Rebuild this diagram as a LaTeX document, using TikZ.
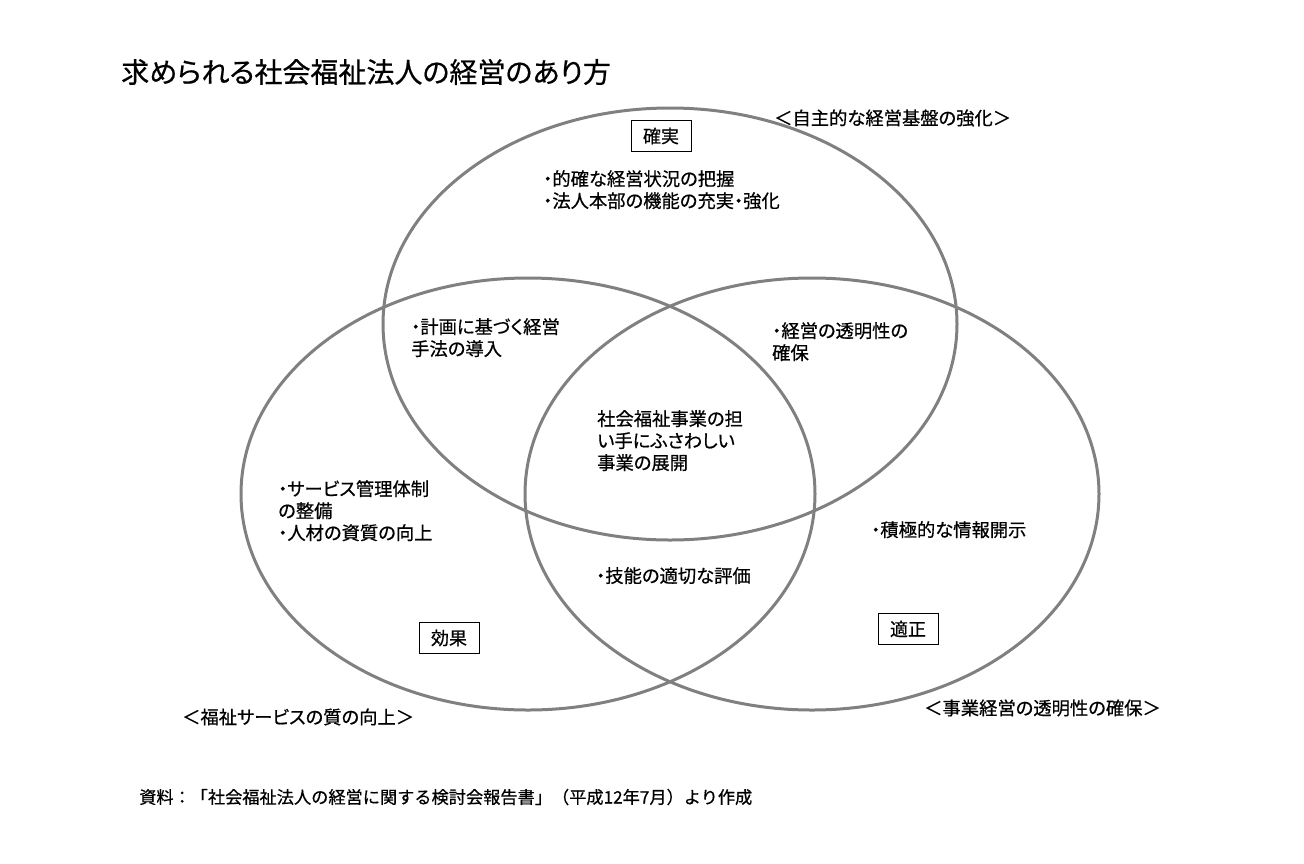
\documentclass[tikz,border=0pt]{standalone}
\usepackage{fontspec}
\setmainfont{Noto Sans CJK JP}[RawFeature=+palt, FakeBold=0.6]
\newfontfamily\plainjp{Noto Sans CJK JP}[FakeBold=0.6]

\begin{document}
\begin{tikzpicture}[x=1pt, y=-1pt,
    ring/.style={draw=black!50, line width=3pt},
    note/.style={font=\fontsize{18.3}{22}\selectfont, align=left, anchor=north west, inner sep=0pt},
    keybox/.style={draw, line width=0.8pt, font=\fontsize{18}{20}\selectfont, inner xsep=12pt, inner ysep=7pt},
    goal/.style={font=\fontsize{18.3}{20}\selectfont, anchor=west, inner sep=0pt}]
  \useasboundingbox (0,0) rectangle (1304,863);

  % the three circles
  \coordinate (sure) at (670,324);
  \coordinate (good) at (528,494);
  \coordinate (fair) at (812,494);
  \draw[ring] (sure) ellipse [x radius=287pt, y radius=216pt];
  \draw[ring] (good) ellipse [x radius=287pt, y radius=216pt];
  \draw[ring] (fair) ellipse [x radius=287pt, y radius=216pt];

  \node[anchor=west, inner sep=0pt, font=\fontsize{28}{30}\selectfont] (title) at (121,72) {求められる社会福祉法人の経営のあり方};

  \node[goal] (gsure) at (774,118) {＜自主的な経営基盤の強化＞};
  \node[goal] (ggood) at (182,717) {＜福祉サービスの質の向上＞};
  \node[goal] (gfair) at (924,708) {＜事業経営の透明性の確保＞};

  \node[keybox] (ksure) at (661,136) {確実};
  \node[keybox] (kgood) at (449,638) {効果};
  \node[keybox] (kfair) at (908,629) {適正};

  \node[note] (nsure) at (543,170) {・的確な経営状況の把握\\・法人本部の機能の充実・強化};
  \node[note] (nsg)   at (411,318) {・計画に基づく経営\\手法の導入};
  \node[note] (nsf)   at (772,322) {・経営の透明性の\\確保};
  \node[note] (nall)  at (597,410) {社会福祉事業の担\\い手にふさわしい\\事業の展開};
  \node[note] (ngood) at (278,480) {・サービス管理体制\\の整備\\・人材の資質の向上};
  \node[note] (ngf)   at (596,567) {・技能の適切な評価};
  \node[note] (nfair) at (871,521) {・積極的な情報開示};

  \node[anchor=west, inner sep=0pt, font=\plainjp\fontsize{17.2}{20}\selectfont] (src) at (139,797) {資料：「社会福祉法人の経営に関する検討会報告書」（平成12年7月）より作成};
\end{tikzpicture}
\end{document}
